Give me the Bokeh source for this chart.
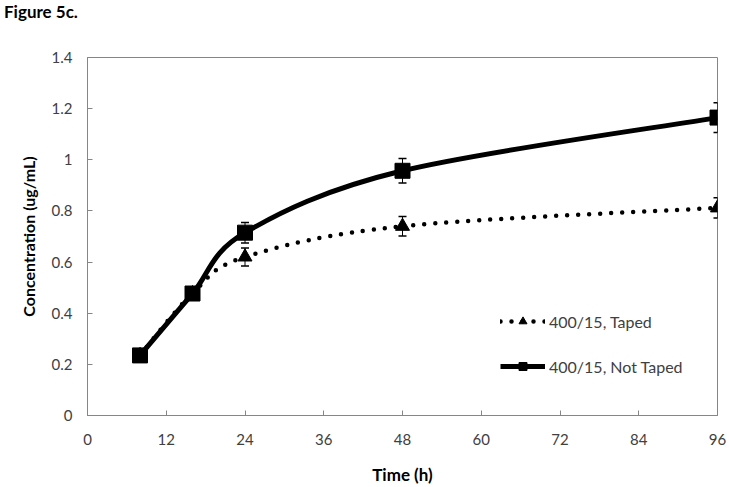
from bokeh.plotting import figure
from bokeh.models import (Whisker, TeeHead, ColumnDataSource, Legend, LegendItem,
                          FixedTicker, Range1d, Div)
from bokeh.layouts import column
from bokeh.embed import file_html
from bokeh.resources import INLINE

# ---- data ----
time_h = [8, 16, 24, 48, 96]
not_taped = [0.235, 0.477, 0.715, 0.957, 1.165]
not_taped_err = [0.0, 0.0, 0.04, 0.048, 0.058]
taped = [0.235, 0.477, 0.62, 0.74, 0.812]
taped_err = [0.0, 0.0, 0.035, 0.038, 0.04]
x_ticks = [0, 12, 24, 36, 48, 60, 72, 84, 96]
y_ticks = [0, 0.2, 0.4, 0.6, 0.8, 1.0, 1.2, 1.4]
y_tick_labels = ["0", "0.2", "0.4", "0.6", "0.8", "1", "1.2", "1.4"]
series_labels = ["400/15, Taped", "400/15, Not Taped"]
caption = "Figure 5c."

FONT = "Lato"
CAPTION_H = 24


def smooth_segments(xs, ys):
    """Catmull-Rom style bezier segments through the data points (spreadsheet 'smoothed line')."""
    n = len(xs)
    segs = dict(x0=[], y0=[], x1=[], y1=[], cx0=[], cy0=[], cx1=[], cy1=[])
    for i in range(n - 1):
        i0 = max(i - 1, 0)
        i3 = min(i + 2, n - 1)
        segs["x0"].append(xs[i]); segs["y0"].append(ys[i])
        segs["x1"].append(xs[i + 1]); segs["y1"].append(ys[i + 1])
        segs["cx0"].append(xs[i] + (xs[i + 1] - xs[i0]) / 6.0)
        segs["cy0"].append(ys[i] + (ys[i + 1] - ys[i0]) / 6.0)
        segs["cx1"].append(xs[i + 1] - (xs[i3] - xs[i]) / 6.0)
        segs["cy1"].append(ys[i + 1] - (ys[i3] - ys[i]) / 6.0)
    return ColumnDataSource(segs)


p = figure(width=729, height=487 - CAPTION_H, x_range=(0, 96), y_range=(0, 1.4),
           output_backend="svg", toolbar_location=None,
           min_border_left=87, min_border_right=12, min_border_top=57 - CAPTION_H,
           min_border_bottom=72)
p.extra_y_ranges = {"legend_proxy": Range1d(100, 101)}

p.xgrid.visible = False
p.ygrid.visible = False
p.outline_line_color = "#868686"
p.outline_line_width = 1
p.background_fill_color = "white"
p.border_fill_color = "white"

for ax in (p.xaxis[0], p.yaxis[0]):
    ax.axis_line_color = "#868686"
    ax.major_tick_line_color = "#868686"
    ax.major_tick_in = 5
    ax.major_tick_out = 0
    ax.minor_tick_line_color = None
    ax.major_label_text_font = FONT
    ax.major_label_text_font_size = "15px"
    ax.major_label_text_color = "#404040"
    ax.axis_label_text_font = FONT
    ax.axis_label_text_font_style = "bold"
    ax.axis_label_text_color = "black"

p.xaxis.axis_label_text_font_size = "17px"
p.yaxis.axis_label_text_font_size = "16px"
p.xaxis.ticker = FixedTicker(ticks=x_ticks)
p.yaxis.ticker = FixedTicker(ticks=y_ticks)
p.yaxis.major_label_overrides = {t: l for t, l in zip(y_ticks, y_tick_labels)}
p.xaxis.major_label_standoff = 18
p.yaxis.major_label_standoff = 15
p.xaxis.axis_label = "Time (h)"
p.yaxis.axis_label = "Concentration (ug/mL)"
p.xaxis.axis_label_standoff = 16
p.yaxis.axis_label_standoff = 11

# smoothed lines
p.bezier(source=smooth_segments(time_h, taped), x0="x0", y0="y0", x1="x1", y1="y1",
         cx0="cx0", cy0="cy0", cx1="cx1", cy1="cy1",
         line_color="black", line_width=4.5, line_dash="0 11", line_cap="round")
p.bezier(source=smooth_segments(time_h, not_taped), x0="x0", y0="y0", x1="x1", y1="y1",
         cx0="cx0", cy0="cy0", cx1="cx1", cy1="cy1",
         line_color="black", line_width=5)

# error bars
src_t = ColumnDataSource(dict(x=time_h, y=taped,
                              lo=[v - e for v, e in zip(taped, taped_err)],
                              hi=[v + e for v, e in zip(taped, taped_err)]))
src_n = ColumnDataSource(dict(x=time_h, y=not_taped,
                              lo=[v - e for v, e in zip(not_taped, not_taped_err)],
                              hi=[v + e for v, e in zip(not_taped, not_taped_err)]))
for src in (src_t, src_n):
    w = Whisker(source=src, base="x", lower="lo", upper="hi", line_color="black", line_width=1,
                upper_head=TeeHead(size=8, line_color="black", line_width=1.5),
                lower_head=TeeHead(size=8, line_color="black", line_width=1.5))
    p.add_layout(w)

# markers
p.scatter("x", "y", source=src_t, marker="triangle", size=14, fill_color="black", line_color="black")
p.scatter("x", "y", source=src_n, marker="square", size=15, fill_color="black", line_color="black")

# legend proxies (same data, drawn on an out-of-view range so only the legend keys show)
lt = p.line("x", "y", source=src_t, y_range_name="legend_proxy", line_color="black",
            line_width=4.5, line_dash="0 11", line_cap="round")
mt = p.scatter("x", "y", source=src_t, y_range_name="legend_proxy", marker="triangle", size=10,
               fill_color="black", line_color="black")
ln = p.line("x", "y", source=src_n, y_range_name="legend_proxy", line_color="black", line_width=5)
mn = p.scatter("x", "y", source=src_n, y_range_name="legend_proxy", marker="square", size=10,
               fill_color="black", line_color="black")

legend = Legend(items=[LegendItem(label=series_labels[0], renderers=[lt, mt]),
                       LegendItem(label=series_labels[1], renderers=[ln, mn])],
                location=(413, 39), padding=0, margin=0, spacing=25,
                glyph_width=45, glyph_height=20, label_height=20, label_standoff=4,
                border_line_color=None, background_fill_alpha=0,
                label_text_font=FONT, label_text_font_size="16px", label_text_color="#404040")
p.add_layout(legend)

head = Div(text=caption, width=729, height=CAPTION_H, margin=(0, 0, 0, 0),
           styles={"font-family": FONT, "font-size": "17px", "font-weight": "bold",
                   "color": "black", "line-height": f"{CAPTION_H}px", "padding-left": "4px",
                   "background-color": "white"})

layout = column(head, p, spacing=0)

open("out.html", "w").write(file_html(layout, INLINE))
